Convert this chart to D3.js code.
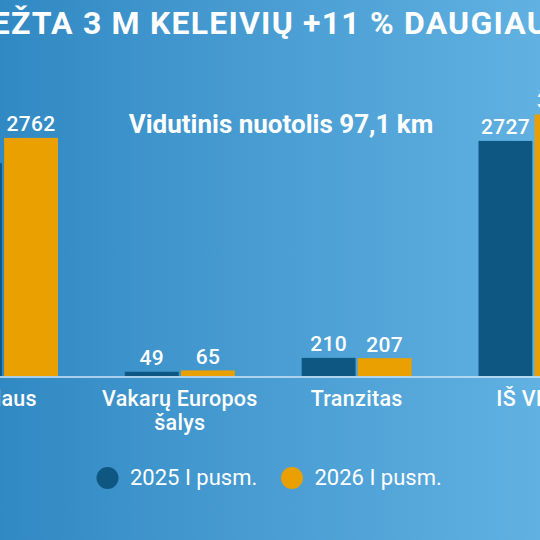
<!DOCTYPE html>
<html>
<head>
<meta charset="utf-8">
<script src="https://cdn.jsdelivr.net/npm/d3@7"></script>
<style>
  html, body { margin: 0; padding: 0; overflow: hidden; }
  svg { display: block; font-family: Roboto, "Noto Sans", sans-serif; }
</style>
</head>
<body>
<div id="chart"></div>
<script>
let title = "PERVEŽTA 3 M KELEIVIŲ +11 % DAUGIAU"
let subtitle = "Vidutinis nuotolis 97,1 km"
let categories = ["Vidaus", "Vakarų Europos\nšalys", "Tranzitas", "IŠ VISO"]
let series = ["2025 I pusm.", "2026 I pusm."]
let values_2025 = [2468, 49, 210, 2727]
let values_2026 = [2762, 65, 207, 3034]
let colors = ["#0e5783", "#eaa000"]

let width = 540,
    height = 540,
    baseline = 376

let rows = categories.map(function(c, i) {
  return { category: c, values: [values_2025[i], values_2026[i]] }
})

let svg = d3.select("#chart").append("svg")
    .attr("width", width)
    .attr("height", height)

let grad = svg.append("defs").append("linearGradient")
    .attr("id", "bg")
    .attr("x1", "0%").attr("x2", "100%")
    .attr("y1", "0%").attr("y2", "0%")
grad.append("stop").attr("offset", "0%").attr("stop-color", "#3189c3")
grad.append("stop").attr("offset", "100%").attr("stop-color", "#61b1e2")

svg.append("rect")
    .attr("width", width)
    .attr("height", height)
    .attr("fill", "url(#bg)")

let x = d3.scalePoint()
    .domain(categories)
    .range([3, 533.5])

let x_inner = d3.scaleBand()
    .domain(series)
    .range([-55, 55])
    .paddingInner(0.04)

let y = d3.scaleLinear()
    .domain([0, 3500])
    .range([baseline, baseline - 3500 * 0.0862])

// title + subtitle
svg.append("text")
    .attr("x", 549)
    .attr("y", 34)
    .attr("text-anchor", "end")
    .attr("fill", "#ffffff")
    .style("font-size", "32px")
    .style("font-weight", 700)
    .style("letter-spacing", "1.2px")
    .text(title)

svg.append("text")
    .attr("x", 281)
    .attr("y", 133)
    .attr("text-anchor", "middle")
    .attr("fill", "#ffffff")
    .style("font-size", "26px")
    .style("font-weight", 700)
    .text(subtitle)

let g = svg.selectAll(".group")
    .data(rows).enter()
      .append("g")
        .classed("group", true)
        .attr("transform", function(d) { return "translate(" + x(d.category) + ",0)" })

let bars = g.selectAll(".bar")
    .data(function(d) {
      return d.values.map(function(v, i) { return { key: series[i], value: v, i: i } })
    }).enter()

bars.append("rect")
    .classed("bar", true)
    .attr("x", function(d) { return x_inner(d.key) })
    .attr("width", x_inner.bandwidth())
    .attr("y", function(d) { return y(d.value) })
    .attr("height", function(d) { return y(0) - y(d.value) })
    .attr("fill", function(d) { return colors[d.i] })

bars.append("text")
    .attr("x", function(d) { return x_inner(d.key) + x_inner.bandwidth() / 2 })
    .attr("y", function(d) { return y(d.value) - 6.5 })
    .attr("text-anchor", "middle")
    .attr("fill", "#ffffff")
    .style("font-size", "21px")
    .style("font-weight", 500)
    .style("letter-spacing", "0.3px")
    .text(function(d) { return d.value })

// axis line
svg.append("line")
    .attr("x1", 0)
    .attr("x2", width)
    .attr("y1", baseline + 1)
    .attr("y2", baseline + 1)
    .attr("stroke", "#cfe6f6")
    .attr("stroke-width", 1.5)

let labels = g.append("text")
    .attr("text-anchor", "middle")
    .attr("fill", "#ffffff")
    .style("font-size", "21.5px")
    .style("font-weight", 500)
    .style("letter-spacing", "0.3px")

labels.selectAll("tspan")
    .data(function(d) { return d.category.split("\n") }).enter()
      .append("tspan")
        .attr("x", function(d, i, nodes) { return 0 })
        .attr("y", function(d, i) { return 406 + i * 23.5 })
        .text(function(d) { return d })

// legend
let legend_x = [107.5, 292]
let legend = svg.selectAll(".legend")
    .data(series).enter()
      .append("g")
        .classed("legend", true)
        .attr("transform", function(d, i) { return "translate(" + legend_x[i] + ",478)" })

legend.append("circle")
    .attr("r", 11)
    .attr("fill", function(d, i) { return colors[i] })

legend.append("text")
    .attr("x", 22.5)
    .attr("y", 7)
    .attr("fill", "#ffffff")
    .style("font-size", "22px")
    .style("font-weight", 400)
    .text(function(d) { return d })
</script>
</body>
</html>
